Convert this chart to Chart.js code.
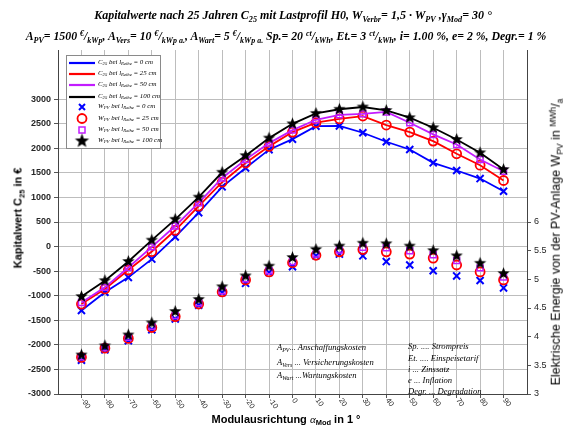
<!DOCTYPE html>
<html>
<head>
<meta charset="utf-8">
<script src="https://cdn.jsdelivr.net/npm/chart.js"></script>
<style>
body { margin: 0; background: #fff; }
#wrap { position: relative; width: 567px; height: 430px; overflow: hidden; }
.lbl { position: absolute; white-space: nowrap; line-height: 1; color: #000; }
.ser { font-family: "Liberation Serif", serif; font-style: italic; }
.san { font-family: "Liberation Sans", Arial, sans-serif; }
sub, sup { font-size: 68%; line-height: 0; }
sub { vertical-align: -0.35em; }
sup { vertical-align: 0.45em; }
</style>
</head>
<body>
<div id="wrap">
  <canvas id="c" width="567" height="430"></canvas>
</div>
<script>
// Modulausrichtung in Grad
const angles = [-90, -80, -70, -60, -50, -40, -30, -20, -10, 0, 10, 20, 30, 40, 50, 60, 70, 80, 90];
// Kapitalwert C25 (linke Achse, Euro)
const c25_0 = [-1301, -930, -627, -255, 197, 689, 1215, 1600, 1972, 2186, 2450, 2455, 2316, 2133, 1976, 1704, 1548, 1384, 1126];
const c25_25 = [-1170, -862, -477, -101, 332, 824, 1310, 1701, 2039, 2330, 2520, 2600, 2656, 2473, 2330, 2146, 1888, 1656, 1344];
const c25_50 = [-1140, -830, -425, -6, 419, 891, 1397, 1769, 2105, 2370, 2580, 2680, 2700, 2740, 2520, 2282, 2078, 1772, 1534];
const c25_100 = [-1018, -694, -303, 130, 555, 1006, 1512, 1850, 2207, 2498, 2710, 2794, 2840, 2770, 2622, 2418, 2180, 1908, 1568];
// W_PV (rechte Achse, MWh/a)
const wpv_0 = [3.59, 3.77, 3.93, 4.12, 4.31, 4.55, 4.77, 4.93, 5.12, 5.22, 5.41, 5.44, 5.41, 5.31, 5.25, 5.15, 5.06, 4.98, 4.85];
const wpv_25 = [3.64, 3.80, 3.97, 4.16, 4.35, 4.57, 4.78, 4.99, 5.13, 5.29, 5.42, 5.48, 5.52, 5.48, 5.44, 5.37, 5.25, 5.13, 4.99];
const wpv_50 = [3.65, 3.81, 3.99, 4.18, 4.37, 4.59, 4.80, 5.01, 5.15, 5.31, 5.44, 5.51, 5.56, 5.55, 5.50, 5.43, 5.33, 5.20, 5.04];
const wpv_100 = [3.68, 3.84, 4.03, 4.24, 4.44, 4.65, 4.87, 5.06, 5.23, 5.38, 5.52, 5.58, 5.63, 5.62, 5.58, 5.50, 5.41, 5.28, 5.10];
// Achsenticks
const yTicks = [-3000, -2500, -2000, -1500, -1000, -500, 0, 500, 1000, 1500, 2000, 2500, 3000];
const y2Ticks = [3, 3.5, 4, 4.5, 5, 5.5, 6];

const BLUE = '#0000ff', RED = '#ff0000', MAG = '#c21cff', BLACK = '#000000';

// gefuellter Stern als pointStyle
function makeStar(r) {
    let s = document.createElement('canvas');
    s.width = s.height = Math.ceil(2 * r + 2);
    let c = s.getContext('2d');
    let cx = s.width / 2;
    c.beginPath();
    for (let i = 0; i < 10; i++) {
        let rr = i % 2 ? r * 0.42 : r;
        let a = -Math.PI / 2 + i * Math.PI / 5;
        c.lineTo(cx + rr * Math.cos(a), cx + rr * Math.sin(a));
    }
    c.closePath();
    c.fillStyle = '#000';
    c.fill();
    return s;
}
const star = makeStar(6.5);
const starLeg = makeStar(7.5);

function pts(vals) {
    return angles.map((a, i) => ({ x: a, y: vals[i] }));
}
function c25Set(label, vals, color, style, radius, bw, order) {
    return {
        type: 'line', label: label, data: pts(vals), yAxisID: 'y', order: order,
        borderColor: color, borderWidth: 1.8, backgroundColor: 'rgba(0,0,0,0)',
        pointStyle: style, pointRadius: radius, pointBorderColor: color,
        pointBorderWidth: bw, pointBackgroundColor: 'rgba(0,0,0,0)', tension: 0
    };
}
function wSet(label, vals, color, style, radius, bw, order) {
    return {
        type: 'scatter', label: label, data: pts(vals), yAxisID: 'y2', order: order,
        showLine: false, borderColor: color, backgroundColor: 'rgba(0,0,0,0)',
        pointStyle: style, pointRadius: radius, pointBorderColor: color,
        pointBorderWidth: bw, pointBackgroundColor: 'rgba(0,0,0,0)'
    };
}

// eigene Teile: x-Beschriftung schraeg, Legendenkasten
const extras = {
    id: 'extras',
    afterDraw(chart) {
        let ctx = chart.ctx;
        let xs = chart.scales.x;
        let area = chart.chartArea;
        ctx.save();
        ctx.font = '7.5px "Liberation Sans", Arial';
        ctx.fillStyle = '#262626';
        ctx.textAlign = 'left';
        ctx.textBaseline = 'middle';
        for (let t of xs.ticks) {
            ctx.save();
            ctx.translate(xs.getPixelForValue(t.value) + 1, area.bottom + 5);
            ctx.rotate(55 * Math.PI / 180);
            ctx.fillText(String(t.value), 0, 0);
            ctx.restore();
        }
        // Legende
        ctx.fillStyle = '#fff';
        ctx.fillRect(66, 55, 94, 93);
        ctx.strokeStyle = '#8a8a8a';
        ctx.lineWidth = 1;
        ctx.strokeRect(66.5, 55.5, 94, 93);
        let lineCols = [BLUE, RED, MAG, BLACK];
        let ly = [63, 74, 85, 97];
        ctx.lineWidth = 2.2;
        lineCols.forEach((c, i) => {
            ctx.strokeStyle = c;
            ctx.beginPath();
            ctx.moveTo(69, ly[i]);
            ctx.lineTo(95, ly[i]);
            ctx.stroke();
        });
        let mx = 82;
        // x
        ctx.strokeStyle = BLUE; ctx.lineWidth = 2;
        ctx.beginPath();
        ctx.moveTo(mx - 3, 104); ctx.lineTo(mx + 3, 110);
        ctx.moveTo(mx + 3, 104); ctx.lineTo(mx - 3, 110);
        ctx.stroke();
        // Kreis
        ctx.strokeStyle = RED; ctx.lineWidth = 1.8;
        ctx.beginPath(); ctx.arc(mx, 118.5, 4.5, 0, 2 * Math.PI); ctx.stroke();
        // Quadrat
        ctx.strokeStyle = MAG; ctx.lineWidth = 1.5;
        ctx.strokeRect(mx - 3, 127, 6, 6);
        // Stern
        ctx.drawImage(starLeg, mx - starLeg.width / 2, 141 - starLeg.height / 2);
        ctx.restore();
    }
};

const chart = new Chart(document.getElementById('c'), {
    type: 'line',
    data: {
        datasets: [
            c25Set('C25 0 cm', c25_0, BLUE, 'crossRot', 5, 2, 8),
            c25Set('C25 25 cm', c25_25, RED, 'circle', 4.5, 1.8, 7),
            c25Set('C25 50 cm', c25_50, MAG, 'rect', 4.2, 1.5, 6),
            c25Set('C25 100 cm', c25_100, BLACK, star, 6, 1, 5),
            wSet('WPV 0 cm', wpv_0, BLUE, 'crossRot', 5, 2, 4),
            wSet('WPV 25 cm', wpv_25, RED, 'circle', 4.5, 1.8, 3),
            wSet('WPV 50 cm', wpv_50, MAG, 'rect', 4.2, 1.5, 2),
            wSet('WPV 100 cm', wpv_100, BLACK, star, 6, 1, 1)
        ]
    },
    options: {
        responsive: false,
        animation: false,
        devicePixelRatio: 1,
        layout: { padding: { top: 50, left: 0, right: 0, bottom: 0 } },
        plugins: { legend: { display: false }, title: { display: false }, tooltip: { enabled: false } },
        scales: {
            x: {
                type: 'linear', min: -100, max: 100,
                afterBuildTicks: s => { s.ticks = angles.map(v => ({ value: v })); },
                afterFit: s => { s.height = 36; },
                ticks: { display: false },
                grid: { color: '#bdbdbd', lineWidth: 1, tickLength: 4, tickColor: '#555' },
                border: { color: '#444', width: 1 }
            },
            y: {
                type: 'linear', position: 'left', min: -3000, max: 4000,
                afterBuildTicks: s => { s.ticks = yTicks.map(v => ({ value: v })); },
                afterFit: s => { s.width = 58; },
                ticks: { callback: v => String(v), color: '#262626', padding: 3,
                    font: { family: 'Liberation Sans', size: 9, weight: 'bold' } },
                grid: { color: '#bdbdbd', lineWidth: 1, tickLength: 4, tickColor: '#555' },
                border: { color: '#444', width: 1 }
            },
            y2: {
                type: 'linear', position: 'right', min: 3, max: 9,
                afterBuildTicks: s => { s.ticks = y2Ticks.map(v => ({ value: v })); },
                afterFit: s => { s.width = 40; },
                ticks: { callback: v => String(v), color: '#262626', padding: 3,
                    font: { family: 'Liberation Sans', size: 9 } },
                grid: { drawOnChartArea: false, tickLength: 4, tickColor: '#555' },
                border: { color: '#444', width: 1 }
            }
        }
    },
    plugins: [extras]
});

// Texte mit Indizes als HTML
const wrap = document.getElementById('wrap');
function put(html, x, y, cls, style, center) {
    let d = document.createElement('div');
    d.className = 'lbl ' + cls;
    d.innerHTML = html;
    d.style.left = x + 'px';
    d.style.top = y + 'px';
    d.style.transform = center ? 'translate(-50%,-50%)' : 'translateY(-50%)';
    if (style) d.style.cssText += style;
    wrap.appendChild(d);
    return d;
}
put('Kapitalwerte nach 25 Jahren C<sub>25</sub> mit Lastprofil H0, W<sub>Verbr</sub>= 1,5 · W<sub>PV</sub> ,γ<sub>Mod</sub>= 30 °',
    293, 15, 'ser', 'font-weight:bold;font-size:12px;', true);
put('A<sub>PV</sub>= 1500 <sup>€</sup>/<sub>kWp</sub>, A<sub>Vers</sub>= 10 <sup>€</sup>/<sub>kWp a.</sub>, A<sub>Wart</sub>= 5 <sup>€</sup>/<sub>kWp a.</sub> Sp.= 20 <sup>ct</sup>/<sub>kWh</sub>, Et.= 3 <sup>ct</sup>/<sub>kWh</sub>, i= 1.00 %, e= 2 %, Degr.= 1 %',
    286, 37, 'ser', 'font-weight:bold;font-size:11.8px;', true);
put('Kapitalwert C<sub>25</sub> in €', 18, 218, 'san',
    'font-weight:bold;font-size:11px;transform:translate(-50%,-50%) rotate(-90deg);', false);
put('Elektrische Energie von der PV-Anlage W<sub>PV</sub> in <sup>MWh</sup>/<sub>a</sub>', 556, 242, 'san',
    'font-size:12.5px;transform:translate(-50%,-50%) rotate(-90deg);', false);
put('Modulausrichtung <span class="ser" style="font-weight:normal">α</span><sub>Mod</sub> in 1 °', 286, 419, 'san',
    'font-weight:bold;font-size:11px;', true);

// Legendentexte
const legTxt = [
    'C<sub>25</sub> bei l<sub>Reihe</sub> = 0 cm',
    'C<sub>25</sub> bei l<sub>Reihe</sub> = 25 cm',
    'C<sub>25</sub> bei l<sub>Reihe</sub> = 50 cm',
    'C<sub>25</sub> bei l<sub>Reihe</sub> = 100 cm',
    'W<sub>PV</sub> bei l<sub>Reihe</sub> = 0 cm',
    'W<sub>PV</sub> bei l<sub>Reihe</sub> = 25 cm',
    'W<sub>PV</sub> bei l<sub>Reihe</sub> = 50 cm',
    'W<sub>PV</sub> bei l<sub>Reihe</sub> = 100 cm'
];
const legY = [62, 73, 84, 96, 106, 117.5, 129, 140];
legTxt.forEach((t, i) => put(t, 98, legY[i], 'ser', 'font-size:6.9px;', false));

// Erklaerungen
const note1 = ['A<sub>PV</sub>... Anschaffungskosten', 'A<sub>Vers</sub> ... Versicherungskosten', 'A<sub>Wart</sub> ...Wartungskosten'];
const note1Y = [347, 362, 375];
note1.forEach((t, i) => put(t, 277, note1Y[i], 'ser', 'font-size:8.6px;', false));
const note2 = ['Sp. .... Strompreis', 'Et. .... Einspeisetarif', 'i ... Zinssatz', 'e ... Inflation', 'Degr. ... Degradation'];
const note2Y = [346, 357.5, 368.5, 379.5, 390.5];
note2.forEach((t, i) => put(t, 408, note2Y[i], 'ser', 'font-size:8.6px;', false));
</script>
</body>
</html>
